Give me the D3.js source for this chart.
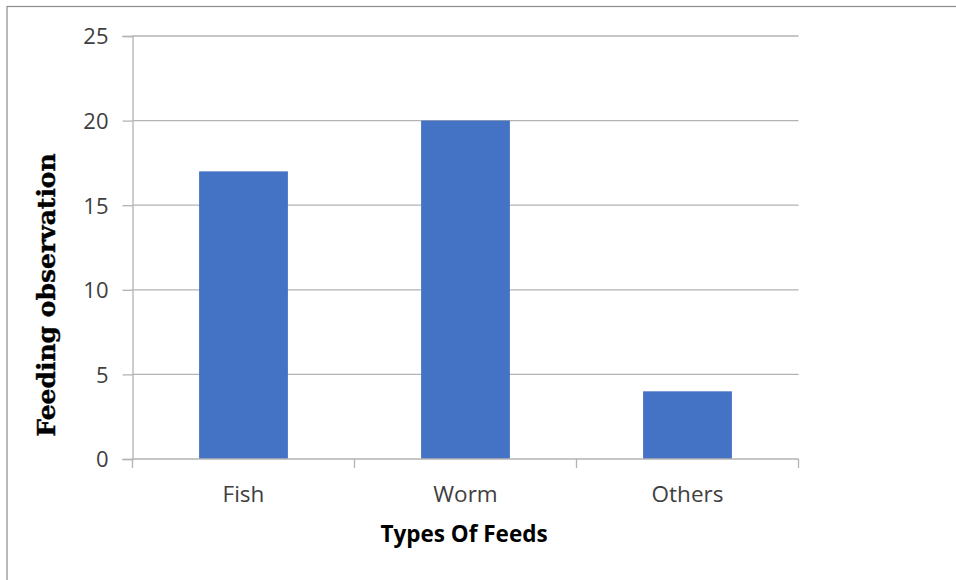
<!DOCTYPE html>
<html>
<head>
<meta charset="utf-8">
<script src="https://cdn.jsdelivr.net/npm/d3@7"></script>
<style>
  html, body { margin: 0; padding: 0; background: #fff; }
  svg { display: block; }
  .tick text { font-family: "Open Sans", sans-serif; fill: #404040; }
</style>
</head>
<body>
<svg id="chart" width="956" height="580"></svg>
<script>
// Feeding observations by type of feed
const categories = ["Fish", "Worm", "Others"];
const values = [17, 20, 4];
const yTicks = [0, 5, 10, 15, 20, 25];

const svg = d3.select("#chart");
const W = 956, H = 580;
const plot = { left: 132.5, right: 798.5, top: 36, bottom: 459 };

// outer frame of the chart area
svg.append("rect")
  .attr("x", 7).attr("y", 6.5)
  .attr("width", W).attr("height", H)
  .attr("fill", "none").attr("stroke", "#8c8c8c").attr("stroke-width", 1.2);

const x = d3.scaleBand().domain(categories).range([plot.left, plot.right])
  .paddingInner(0).paddingOuter(0);
const y = d3.scaleLinear().domain([0, 25]).range([plot.bottom, plot.top]);

// horizontal gridlines
svg.append("g")
  .selectAll("line").data(yTicks.filter(d => d > 0)).join("line")
  .attr("x1", plot.left).attr("x2", plot.right)
  .attr("y1", d => y(d)).attr("y2", d => y(d))
  .attr("stroke", "#b3b3b3").attr("stroke-width", 1.3);

// y axis
const yAxis = svg.append("g")
  .attr("transform", `translate(${plot.left},0)`)
  .call(d3.axisLeft(y).tickValues(yTicks).tickSize(10).tickPadding(14));
yAxis.select(".domain").attr("stroke", "#b3b3b3").attr("stroke-width", 1.3);
yAxis.selectAll(".tick line").attr("stroke", "#b3b3b3").attr("stroke-width", 1.3);
yAxis.selectAll(".tick text").attr("font-size", 22).attr("dy", "0.36em");

// bars: width is 40% of each category band (gap width 150%)
const barW = x.bandwidth() * 0.4;
svg.append("g")
  .selectAll("rect").data(categories).join("rect")
  .attr("x", d => x(d) + (x.bandwidth() - barW) / 2)
  .attr("width", barW)
  .attr("y", (d, i) => y(values[i]))
  .attr("height", (d, i) => y(0) - y(values[i]))
  .attr("fill", "#4472C4");

// x axis line with boundary ticks between categories
const xg = svg.append("g");
xg.append("line")
  .attr("x1", plot.left).attr("x2", plot.right)
  .attr("y1", y(0)).attr("y2", y(0))
  .attr("stroke", "#b3b3b3").attr("stroke-width", 1.3);
const bounds = categories.map(c => x(c)).concat([plot.right]);
xg.selectAll("line.b").data(bounds).join("line").attr("class", "b")
  .attr("x1", d => d).attr("x2", d => d)
  .attr("y1", y(0)).attr("y2", y(0) + 9)
  .attr("stroke", "#b3b3b3").attr("stroke-width", 1.3);
xg.selectAll("text").data(categories).join("text")
  .attr("x", d => x(d) + x.bandwidth() / 2)
  .attr("y", 502)
  .attr("text-anchor", "middle")
  .attr("font-family", "'Open Sans', sans-serif")
  .attr("font-size", 22.5)
  .attr("fill", "#404040")
  .text(d => d);

// axis titles
svg.append("text")
  .attr("x", 464).attr("y", 542)
  .attr("text-anchor", "middle")
  .attr("font-family", "'Open Sans', sans-serif")
  .attr("font-weight", "bold")
  .attr("font-size", 22.5)
  .attr("fill", "#000")
  .text("Types Of Feeds");

svg.append("text")
  .attr("transform", "translate(55,295) rotate(-90)")
  .attr("text-anchor", "middle")
  .style("font-family", "'DejaVu Serif', serif")
  .style("font-weight", "bold")
  .style("font-size", "25px")
  .attr("fill", "#000")
  .attr("stroke", "#000")
  .attr("stroke-width", 0.4)
  .text("Feeding observation");
</script>
</body>
</html>
